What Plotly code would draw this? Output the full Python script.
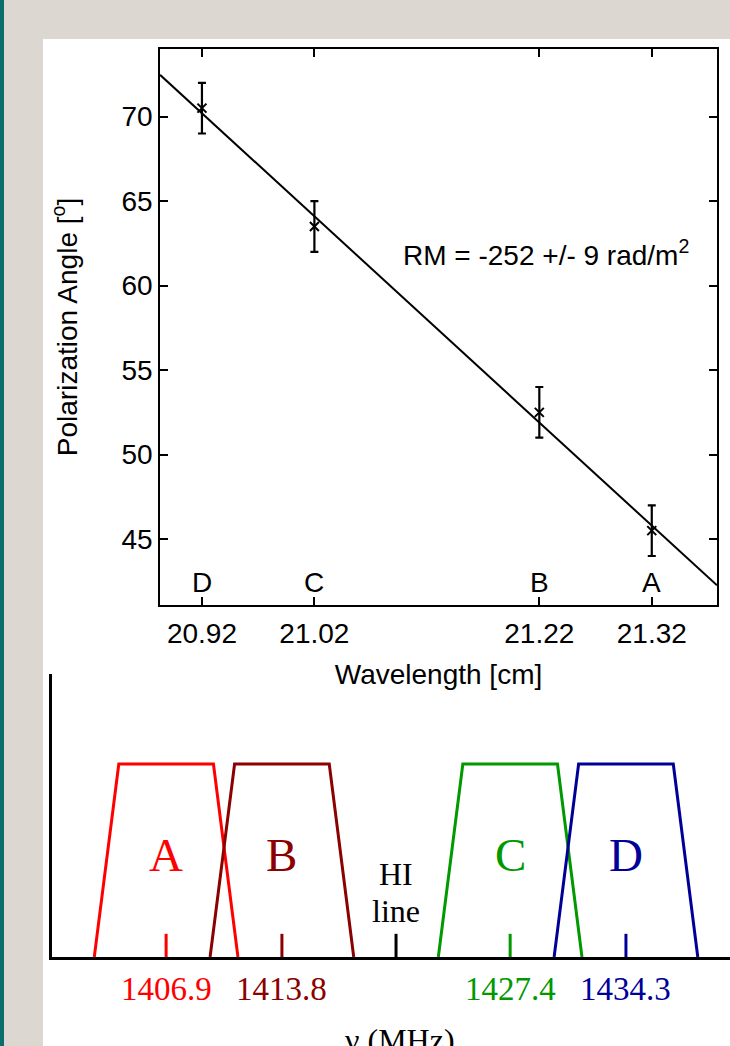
import numpy as np
import plotly.graph_objects as go

# ---------------- top panel data ----------------
wavelength = [20.92, 21.02, 21.22, 21.32]          # cm
angle = [70.5, 63.5, 52.5, 45.5]                   # degrees
angle_err = [1.5, 1.5, 1.5, 1.5]
point_letters = ["D", "C", "B", "A"]
x_tick_labels = ["20.92", "21.02", "21.22", "21.32"]
y_ticks = [45, 50, 55, 60, 65, 70]
x_range = [20.8827, 21.378]
y_range = [41.1, 74.0]
letter_level = 42.45
rm_text = "RM = -252 +/- 9 rad/m<sup>2</sup>"

# ---------------- bottom panel data ----------------
band_names = ["A", "B", "C", "D"]
band_freq = [1406.9, 1413.8, 1427.4, 1434.3]       # MHz
band_labels = ["1406.9", "1413.8", "1427.4", "1434.3"]
band_colors = ["#ff0000", "#8b0000", "#009900", "#000099"]
hi_freq = 1420.6
top_half = 2.82       # MHz half-width at the top of the passband
bottom_half = 4.28    # MHz half-width at the bottom of the passband
band_level = 1.0
tick_height = 0.12
letter_height = 0.528
freq_range = [1400.1, 1440.5]
resp_range = [0, 1.466]

W, H = 730, 1046
SANS = "Liberation Sans, Arial, sans-serif"
SERIF = "Liberation Serif, Times New Roman, serif"
TOP_FS = 28

fig = go.Figure()

# linear fit of the angles
slope, intercept = np.polyfit(wavelength, angle, 1)
fit_x = np.array(x_range)
fit_y = slope * fit_x + intercept
fig.add_trace(go.Scatter(x=fit_x, y=fit_y, mode="lines",
                         line=dict(color="black", width=2),
                         xaxis="x", yaxis="y", showlegend=False, hoverinfo="skip"))
fig.add_trace(go.Scatter(x=wavelength, y=angle, mode="markers",
                         marker=dict(symbol="x-thin", size=9, color="black",
                                     line=dict(color="black", width=2)),
                         error_y=dict(type="data", array=angle_err, visible=True,
                                      color="black", thickness=2.2, width=4),
                         xaxis="x", yaxis="y", showlegend=False))

annotations = []
for xv, letter in zip(wavelength, point_letters):
    annotations.append(dict(x=xv, y=letter_level, xref="x", yref="y", text=letter,
                            showarrow=False, xanchor="center", yanchor="middle",
                            font=dict(family=SANS, size=TOP_FS, color="black")))
annotations.append(dict(x=546 / W, y=1 - 253 / H, xref="paper", yref="paper",
                        text=rm_text, showarrow=False, xanchor="center", yanchor="middle",
                        font=dict(family=SANS, size=TOP_FS, color="black")))

# ---------------- bottom panel ----------------
for name, c, col in zip(band_names, band_freq, band_colors):
    fig.add_trace(go.Scatter(
        x=[c - bottom_half, c - top_half, c + top_half, c + bottom_half],
        y=[0, band_level, band_level, 0], mode="lines",
        line=dict(color=col, width=3), xaxis="x2", yaxis="y2",
        showlegend=False, hoverinfo="skip"))
for c, col in zip(band_freq + [hi_freq], band_colors + ["black"]):
    fig.add_trace(go.Scatter(x=[c, c], y=[0, tick_height], mode="lines",
                             line=dict(color=col, width=3), xaxis="x2", yaxis="y2",
                             showlegend=False, hoverinfo="skip"))
for name, c, col, lab in zip(band_names, band_freq, band_colors, band_labels):
    annotations.append(dict(x=c, y=letter_height, xref="x2", yref="y2", text=name,
                            showarrow=False, xanchor="center", yanchor="middle",
                            font=dict(family=SERIF, size=47, color=col)))
    annotations.append(dict(x=c, y=1 - 989 / H, xref="x2", yref="paper", text=lab,
                            showarrow=False, xanchor="center", yanchor="middle",
                            font=dict(family=SERIF, size=33, color=col)))
annotations.append(dict(x=hi_freq, y=1 - 874 / H, xref="x2", yref="paper", text="HI",
                        showarrow=False, xanchor="center", yanchor="middle",
                        font=dict(family=SERIF, size=32, color="black")))
annotations.append(dict(x=hi_freq, y=1 - 911 / H, xref="x2", yref="paper", text="line",
                        showarrow=False, xanchor="center", yanchor="middle",
                        font=dict(family=SERIF, size=32, color="black")))
annotations.append(dict(x=400 / W, y=1 - 1040 / H, xref="paper", yref="paper",
                        text="ν (MHz)", showarrow=False, xanchor="center", yanchor="middle",
                        font=dict(family=SERIF, size=32, color="black")))

shapes = [
    dict(type="rect", xref="paper", yref="paper", x0=0, x1=4 / W, y0=0, y1=1,
         fillcolor="#0b6e6a", line=dict(width=0), layer="below"),
    dict(type="rect", xref="paper", yref="paper", x0=43 / W, x1=1, y0=0, y1=1 - 39 / H,
         fillcolor="white", line=dict(width=0), layer="below"),
]

fig.update_layout(
    width=W, height=H, autosize=False,
    margin=dict(l=0, r=0, t=0, b=0),
    paper_bgcolor="#dcd7d1", plot_bgcolor="rgba(0,0,0,0)",
    showlegend=False,
    font=dict(family=SANS, size=TOP_FS, color="black"),
    annotations=annotations, shapes=shapes,
    xaxis=dict(domain=[160 / W, 717 / W], anchor="y", range=x_range,
               tickvals=wavelength, ticktext=x_tick_labels,
               ticks="inside", ticklen=8, tickwidth=1.5, tickcolor="black",
               showline=True, linewidth=1.5, linecolor="black", mirror="ticks",
               showgrid=False, zeroline=False, ticklabelstandoff=3,
               tickfont=dict(family=SANS, size=TOP_FS),
               title=dict(text="Wavelength [cm]", standoff=16,
                          font=dict(family=SANS, size=TOP_FS))),
    yaxis=dict(domain=[1 - 605 / H, 1 - 49 / H], anchor="x", range=y_range,
               tickvals=y_ticks, ticks="inside", ticklen=8, tickwidth=1.5,
               tickcolor="black", showline=True, linewidth=1.5, linecolor="black",
               mirror="ticks", showgrid=False, zeroline=False,
               tickfont=dict(family=SANS, size=TOP_FS),
               title=dict(text="Polarization Angle [<sup>o</sup>]", standoff=36,
                          font=dict(family=SANS, size=TOP_FS))),
    xaxis2=dict(domain=[52 / W, 1], anchor="y2", range=freq_range,
                showline=True, linewidth=3, linecolor="black",
                showticklabels=False, ticks="", showgrid=False, zeroline=False),
    yaxis2=dict(domain=[1 - 957 / H, 1 - 674 / H], anchor="x2", range=resp_range,
                showline=True, linewidth=3, linecolor="black",
                showticklabels=False, ticks="", showgrid=False, zeroline=False),
)

fig.write_html("out.html",
               config={"displayModeBar": False},
               post_script="document.body.style.margin='0';document.body.style.overflow='hidden';")
